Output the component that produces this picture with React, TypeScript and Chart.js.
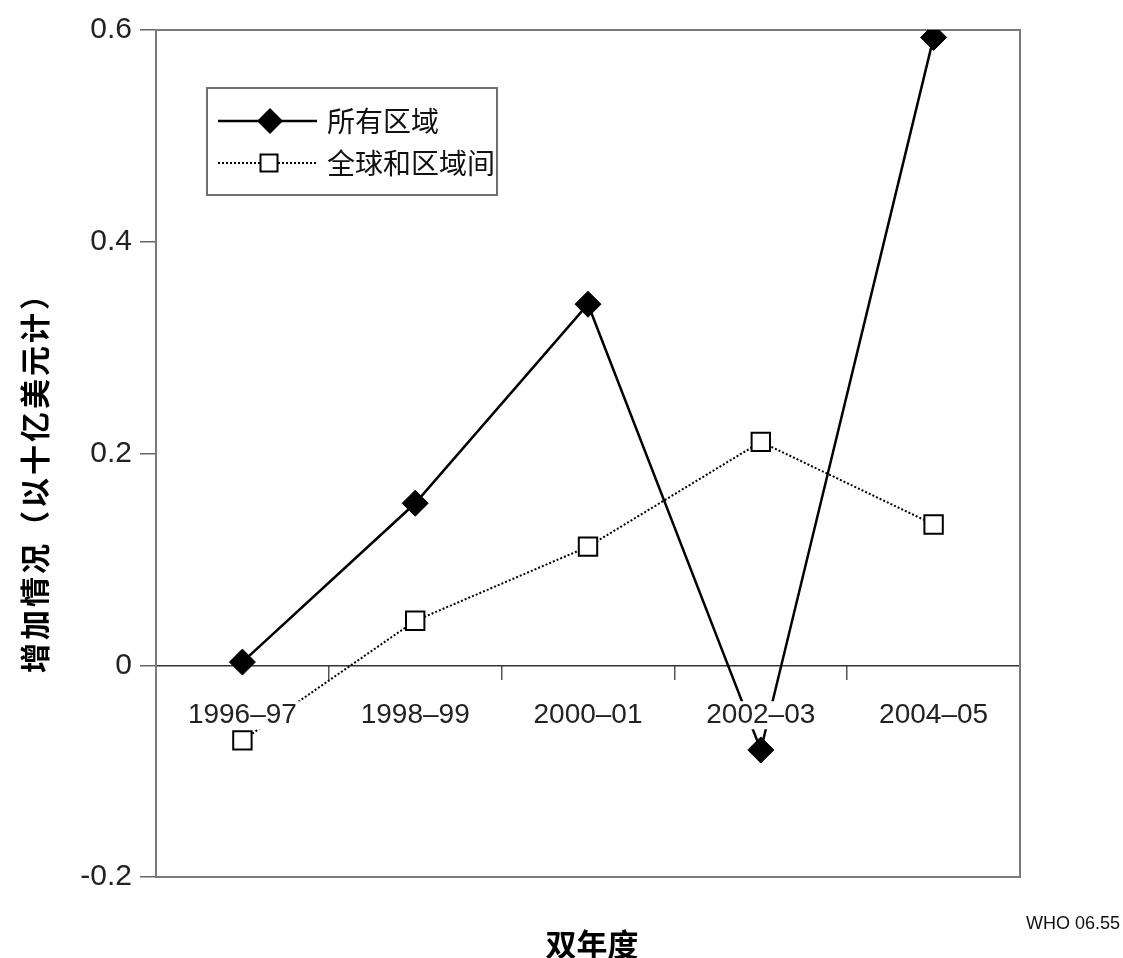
import React, { useEffect, useRef } from "react";
import { Chart, registerables } from "chart.js";

Chart.register(...registerables);

const categories = ["1996–97", "1998–99", "2000–01", "2002–03", "2004–05"];
const allRegions = [0.003, 0.153, 0.341, -0.08, 0.593];
const globalInterregional = [-0.071, 0.042, 0.112, 0.211, 0.133];
const seriesNames = ["所有区域", "全球和区域间"];
const yTickLabels: Record<string, string> = { "-0.2": "-0.2", "0": "0", "0.2": "0.2", "0.4": "0.4", "0.6": "0.6" };
const yTitle = "增加情况（以十亿美元计）";
const xTitle = "双年度";
const noteText = "WHO 06.55";

const SANS = "'Liberation Sans', Arial, sans-serif";
const CJK = "'Noto Sans CJK SC', sans-serif";

function drawDiamond(ctx: CanvasRenderingContext2D, x: number, y: number, r: number) {
  ctx.beginPath();
  ctx.moveTo(x, y - r);
  ctx.lineTo(x + r, y);
  ctx.lineTo(x, y + r);
  ctx.lineTo(x - r, y);
  ctx.closePath();
  ctx.fillStyle = "#000";
  ctx.fill();
}

function drawSquare(ctx: CanvasRenderingContext2D, x: number, y: number, h: number) {
  ctx.fillStyle = "#fff";
  ctx.fillRect(x - h, y - h, 2 * h, 2 * h);
  ctx.strokeStyle = "#000";
  ctx.lineWidth = 2;
  ctx.setLineDash([]);
  ctx.strokeRect(x - h, y - h, 2 * h, 2 * h);
}

const decorPlugin = {
  id: "decor",
  beforeDatasetsDraw(chart: any) {
    const { ctx, chartArea } = chart;
    ctx.save();
    ctx.strokeStyle = "#7a7a7a";
    ctx.lineWidth = 2;
    ctx.setLineDash([]);
    ctx.strokeRect(chartArea.left, chartArea.top, chartArea.right - chartArea.left, chartArea.bottom - chartArea.top);
    ctx.restore();
  },
  afterDraw(chart: any) {
    const { ctx, chartArea } = chart;
    ctx.save();
    // Legend box
    const lx = chartArea.left + 51;
    const ly = chartArea.top + 58;
    const lw = 290;
    const lh = 107;
    ctx.fillStyle = "#fff";
    ctx.fillRect(lx, ly, lw, lh);
    ctx.strokeStyle = "#6f6f6f";
    ctx.lineWidth = 2;
    ctx.strokeRect(lx, ly, lw, lh);

    const r1 = ly + 33;
    const r2 = ly + 75;
    ctx.strokeStyle = "#000";
    ctx.lineWidth = 2.5;
    ctx.beginPath();
    ctx.moveTo(lx + 11, r1);
    ctx.lineTo(lx + 110, r1);
    ctx.stroke();
    drawDiamond(ctx, lx + 63, r1, 13);
    ctx.lineWidth = 2;
    ctx.setLineDash([2, 2]);
    ctx.beginPath();
    ctx.moveTo(lx + 11, r2);
    ctx.lineTo(lx + 110, r2);
    ctx.stroke();
    ctx.setLineDash([]);
    drawSquare(ctx, lx + 62, r2, 8.5);

    ctx.fillStyle = "#111";
    ctx.font = `28px ${CJK}`;
    ctx.textAlign = "left";
    ctx.textBaseline = "middle";
    ctx.fillText(seriesNames[0], lx + 120, r1);
    ctx.fillText(seriesNames[1], lx + 120, r2);

    // Y title
    ctx.save();
    ctx.translate(35, 475);
    ctx.rotate(-Math.PI / 2);
    ctx.font = `bold 30px ${CJK}`;
    (ctx as any).letterSpacing = "3px";
    ctx.fillStyle = "#000";
    ctx.textAlign = "center";
    ctx.textBaseline = "middle";
    ctx.fillText(yTitle, 0, 0);
    ctx.restore();

    // X title
    ctx.font = `bold 31px ${CJK}`;
    ctx.fillStyle = "#000";
    ctx.textAlign = "center";
    ctx.textBaseline = "middle";
    ctx.fillText(xTitle, 592, 944);

    // Note
    ctx.font = `18px ${SANS}`;
    ctx.fillStyle = "#111";
    ctx.textAlign = "right";
    ctx.fillText(noteText, 1120, 924);
    ctx.restore();
  },
};

export default function App() {
  const ref = useRef<HTMLCanvasElement | null>(null);
  useEffect(() => {
    if (!ref.current) return;
    const chart = new Chart(ref.current, {
      type: "line",
      data: {
        labels: categories,
        datasets: [
          {
            label: seriesNames[0],
            data: allRegions,
            borderColor: "#000",
            backgroundColor: "#000",
            borderWidth: 2.5,
            pointStyle: "rectRot",
            pointRadius: 13,
            pointHoverRadius: 13,
            pointBackgroundColor: "#000",
            pointBorderColor: "#000",
            pointBorderWidth: 1,
            tension: 0,
            order: 1,
          },
          {
            label: seriesNames[1],
            data: globalInterregional,
            borderColor: "#000",
            backgroundColor: "#fff",
            borderWidth: 2,
            borderDash: [2, 2],
            pointStyle: "rect",
            pointRadius: 13,
            pointHoverRadius: 13,
            pointBackgroundColor: "#fff",
            pointBorderColor: "#000",
            pointBorderWidth: 2,
            tension: 0,
            order: 2,
          },
        ],
      },
      options: {
        animation: false,
        responsive: false,
        maintainAspectRatio: false,
        layout: { padding: { top: 30, right: 103, left: 0, bottom: 81 } },
        plugins: {
          legend: { display: false },
          tooltip: { enabled: false },
          title: { display: false },
        },
        scales: {
          x: {
            type: "category",
            position: { y: 0 } as any,
            offset: true,
            grid: {
              offset: true,
              drawOnChartArea: false,
              drawTicks: true,
              tickLength: 15,
              color: "#555",
              lineWidth: 1.5,
            },
            border: { display: false },
            ticks: {
              z: 1,
              font: { family: SANS, size: 28, lineHeight: 1.0 },
              color: "#222",
              padding: 21,
              maxRotation: 0,
              autoSkip: false,
              showLabelBackdrop: true,
              backdropColor: "#fff",
              backdropPadding: { top: 0, bottom: 0, left: 3, right: 3 },
            } as any,
          },
          y: {
            type: "linear",
            min: -0.2,
            max: 0.6,
            afterFit: (s: any) => {
              s.width = 156;
            },
            grid: {
              drawTicks: true,
              tickLength: 16,
              color: (c: any) => (c.tick && Math.abs(c.tick.value) < 1e-9 ? "#333" : "rgba(0,0,0,0)"),
              tickColor: "#666",
              lineWidth: 1.5,
            },
            border: { display: true, color: "#7a7a7a", width: 2 },
            ticks: {
              stepSize: 0.2,
              font: { family: SANS, size: 30 },
              color: "#222",
              padding: 8,
              callback: (v: any) => {
                const key = String(Math.round(Number(v) * 10) / 10);
                return yTickLabels[key] ?? key;
              },
            },
          },
        },
      },
      plugins: [decorPlugin],
    });
    return () => chart.destroy();
  }, []);
  return (
    <div style={{ position: "fixed", left: 0, top: 0, width: 1123, height: 958, background: "#fff" }}>
      <canvas ref={ref} width={1123} height={958} style={{ display: "block", width: 1123, height: 958 }} />
    </div>
  );
}
